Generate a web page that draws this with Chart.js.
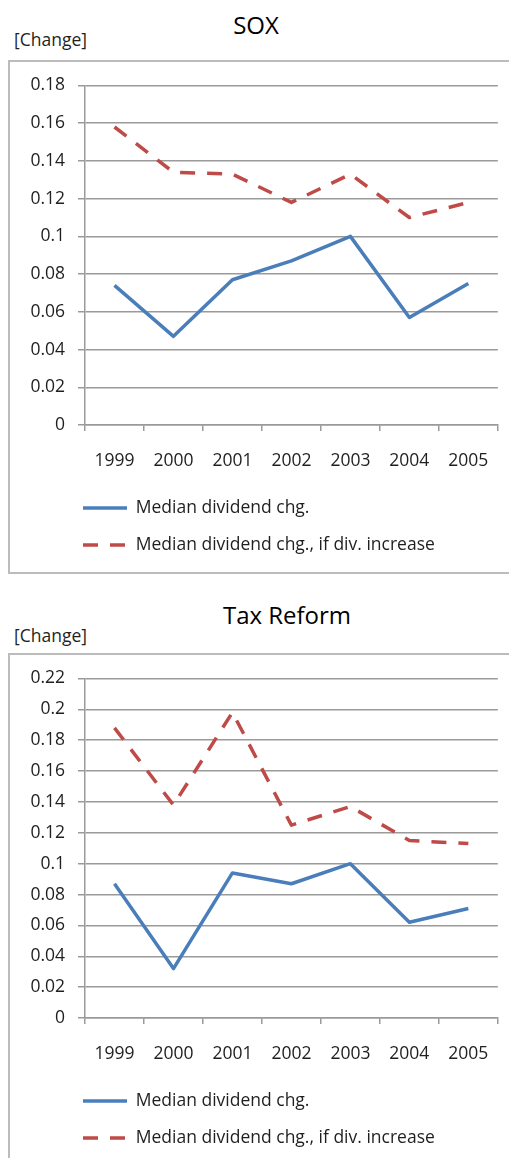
<!DOCTYPE html>
<html>
<head>
<meta charset="utf-8">
<script src="https://cdn.jsdelivr.net/npm/chart.js"></script>
<style>
    body { margin: 0; background: #fff; width: 509px; height: 1158px; overflow: hidden; position: relative; font-family: "Open Sans", sans-serif; }
    .title { position: absolute; width: 240px; text-align: center; font-size: 24px; line-height: 24px; color: #000; }
    .unit { position: absolute; left: 14px; font-size: 17.5px; line-height: 17.5px; color: #1f1f1f; }
    .box { position: absolute; left: 8px; width: 520px; height: 510px; border: 2px solid #bcbcbc; }
    .box canvas { position: absolute; left: 0; top: 0; }
</style>
</head>
<body>
<div class="title" style="left:136px; top:13px;">SOX</div>
<div class="unit" style="top:31px;">[Change]</div>
<div class="box" style="top:60px;"><canvas id="soxChart" width="499" height="508"></canvas></div>

<div class="title" style="left:167px; top:603px;">Tax Reform</div>
<div class="unit" style="top:627px;">[Change]</div>
<div class="box" style="top:653px;"><canvas id="taxChart" width="499" height="508"></canvas></div>

<script>
const years = ['1999', '2000', '2001', '2002', '2003', '2004', '2005'];
const seriesNames = ['Median dividend chg.', 'Median dividend chg., if div. increase'];

// SOX panel
const soxMedian   = [0.074, 0.047, 0.077, 0.087, 0.100, 0.057, 0.075];
const soxIncrease = [0.158, 0.134, 0.133, 0.118, 0.133, 0.110, 0.118];
const soxMax = 0.18;

// Tax Reform panel
const taxMedian   = [0.087, 0.032, 0.094, 0.087, 0.100, 0.062, 0.071];
const taxIncrease = [0.188, 0.138, 0.198, 0.125, 0.137, 0.115, 0.113];
const taxMax = 0.22;

const yStep = 0.02;

const gridColor = '#9a9a9a';
const textColor = '#1f1f1f';
const font = { family: "'Open Sans', sans-serif", size: 17.5 };

// legend sits under the plot, indented instead of starting at the canvas edge
const legendIndent = {
    id: 'legendIndent',
    afterLayout(chart) {
        const lg = chart.legend;
        const w = lg.right - lg.left;
        lg.left = 53.5;
        lg.right = lg.left + w;
    }
};

function createChart(id, median, increase, max) {
    const ctx = document.getElementById(id);
    return new Chart(ctx, {
        type: 'line',
        data: {
            labels: years,
            datasets: [{
                label: seriesNames[0],
                data: median,
                borderColor: '#4a7ebb',
                backgroundColor: '#4a7ebb',
                borderWidth: 3.5,
                borderJoinStyle: 'round',
                pointRadius: 0,
                tension: 0
            }, {
                label: seriesNames[1],
                data: increase,
                borderColor: '#be4b48',
                backgroundColor: '#be4b48',
                borderWidth: 3.5,
                borderDash: [15, 12],
                borderJoinStyle: 'round',
                pointRadius: 0,
                tension: 0
            }]
        },
        options: {
            responsive: false,
            animation: false,
            layout: {
                padding: { left: 0, right: 9, top: 21, bottom: 6.25 }
            },
            scales: {
                x: {
                    offset: true,
                    grid: { offset: true, drawOnChartArea: false, drawTicks: true, tickLength: 6, color: gridColor, lineWidth: 1.5 },
                    border: { color: gridColor, width: 1.5 },
                    ticks: { color: textColor, font, padding: 20, maxRotation: 0 },
                    afterFit: s => { s.height = 54.75; }
                },
                y: {
                    min: 0,
                    max: max,
                    grid: { color: gridColor, lineWidth: 1.5, tickLength: 7 },
                    border: { color: gridColor, width: 1.5 },
                    ticks: {
                        stepSize: yStep,
                        color: textColor,
                        font,
                        padding: 13,
                        callback: v => String(+v.toFixed(2))
                    },
                    afterFit: s => { s.width = 75; }
                }
            },
            plugins: {
                legend: {
                    position: 'bottom',
                    align: 'start',
                    labels: {
                        usePointStyle: true,
                        pointStyle: 'line',
                        pointStyleWidth: 44,
                        padding: 19.5,
                        color: textColor,
                        font,
                        generateLabels: chart => Chart.defaults.plugins.legend.labels.generateLabels(chart).map((item, i) => {
                            const ds = chart.data.datasets[i];
                            item.strokeStyle = ds.borderColor;
                            item.lineWidth = ds.borderWidth;
                            item.lineDash = ds.borderDash || [];
                            return item;
                        })
                    }
                },
                tooltip: { enabled: false }
            }
        },
        plugins: [legendIndent]
    });
}

createChart('soxChart', soxMedian, soxIncrease, soxMax);
createChart('taxChart', taxMedian, taxIncrease, taxMax);
</script>
</body>
</html>
